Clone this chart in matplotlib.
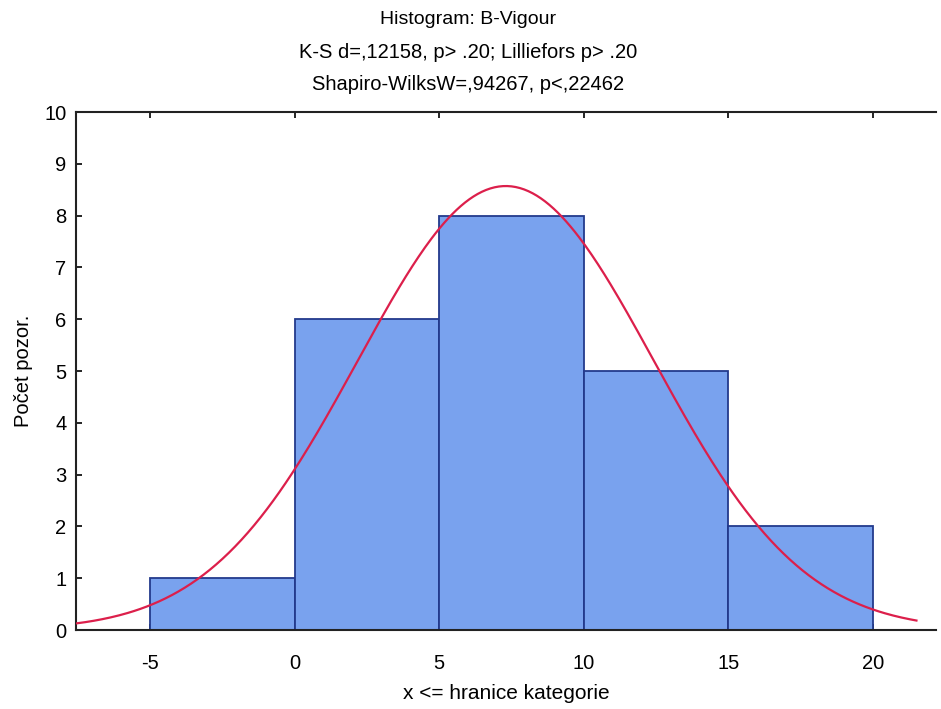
import numpy as np
import matplotlib
matplotlib.use("Agg")
import matplotlib.pyplot as plt

plt.rcParams['font.family'] = ['Liberation Sans', 'DejaVu Sans']
plt.rcParams['axes.unicode_minus'] = False

# Histogram bins (upper class bounds) and counts
bin_edges = [-5, 0, 5, 10, 15, 20]
counts = [1, 6, 8, 5, 2]

# Fitted normal curve parameters
fit_mean = 7.3
fit_sd = 5.12
n_obs = sum(counts)
bin_width = 5

x_ticks = [-5, 0, 5, 10, 15, 20]
y_ticks = list(range(0, 11))

title_lines = [
    "Histogram: B-Vigour",
    "K-S d=,12158, p> .20; Lilliefors p> .20",
    "Shapiro-WilksW=,94267, p<,22462",
]

fig = plt.figure(figsize=(9.41, 7.09), dpi=100)
ax = fig.add_axes([0.0808, 0.1114, 0.914, 0.7306])

bar_color = "#79a2ee"
edge_color = "#233a8c"
lefts = bin_edges[:-1]
widths = np.diff(bin_edges)
ax.bar(lefts, counts, width=widths, align="edge", color=bar_color,
       edgecolor=edge_color, linewidth=1.3, zorder=2)

xs = np.linspace(-7.6, 21.5, 400)
ys = n_obs * bin_width / (fit_sd * np.sqrt(2 * np.pi)) * np.exp(-0.5 * ((xs - fit_mean) / fit_sd) ** 2)
ax.plot(xs, ys, color="#dc1f4b", linewidth=1.6, zorder=3)

ax.set_xlim(-7.56, 22.18)
ax.set_ylim(0, 10)
ax.set_xticks(x_ticks)
ax.set_yticks(y_ticks)
ax.tick_params(axis="both", direction="in", length=4, width=1.2,
               labelsize=14.5, colors="black", top=True)
ax.tick_params(axis="x", pad=17)
ax.tick_params(axis="y", pad=7)
for side in ["left", "bottom", "top"]:
    ax.spines[side].set_linewidth(1.5)
    ax.spines[side].set_color("#222222")
ax.spines["right"].set_visible(False)

ax.set_ylabel("Počet pozor.", fontsize=14.5, labelpad=8)
ax.set_xlabel("x <= hranice kategorie", fontsize=15, labelpad=8)

title_sizes = [14, 14.5, 14.5]
for i, line in enumerate(title_lines):
    fig.text(0.497, 1 - (19 + 33 * i) / 709, line, ha="center", va="center",
             fontsize=title_sizes[i])

fig.savefig("out.png", dpi=100)
